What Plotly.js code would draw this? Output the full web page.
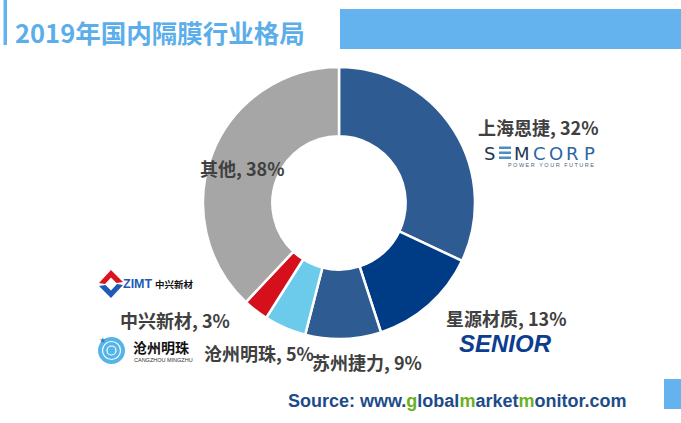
<!DOCTYPE html>
<html>
<head>
<meta charset="utf-8">
<script src="https://cdn.plot.ly/plotly-3.0.1.min.js"></script>
<style>html,body{margin:0;padding:0;background:#fff;}#chart{width:681px;height:423px;}</style>
</head>
<body>
<div id="chart"></div>
<script>
// ---- data ----
const chartTitle = '2019年国内隔膜行业格局';
const companies = ['上海恩捷', '星源材质', '苏州捷力', '沧州明珠', '中兴新材', '其他'];
const shares = [32, 13, 9, 5, 3, 38];
const sourceLabel = 'Source: www.globalmarketmonitor.com';

// ---- styles / layout ----
const sliceColors = ['#2F5B93', '#003B85', '#2F5B93', '#6CCAEA', '#D50F1C', '#A6A6A6'];
const labelPos = [[538, 127], [506, 318], [367, 362], [259, 353], [175, 320], [242, 168]];
const W = 681, H = 423;
const cx = 339, cy = 203, R = 136;

const pie = {
  type: 'pie',
  values: shares,
  labels: companies,
  sort: false,
  direction: 'clockwise',
  rotation: 0,
  hole: 0.49,
  textinfo: 'none',
  hoverinfo: 'label+percent',
  marker: { colors: sliceColors, line: { color: '#FFFFFF', width: 2.5 } },
  domain: { x: [(cx - R) / W, (cx + R) / W], y: [1 - (cy + R) / H, 1 - (cy - R) / H] },
  showlegend: false
};
const dummy = { type: 'scatter', x: [], y: [], showlegend: false, hoverinfo: 'skip' };

const cjk = 'Noto Sans CJK SC, sans-serif';
const sans = 'Liberation Sans, Arial, sans-serif';
const ann = [];
// title
ann.push({ x: 13, y: 31, xref: 'x', yref: 'y', xanchor: 'left', yanchor: 'middle', showarrow: false,
  text: '<b>' + chartTitle + '</b>', font: { family: cjk, size: 25.5, color: '#5BAEEA' } });
// slice labels
companies.forEach((c, i) => {
  ann.push({ x: labelPos[i][0], y: labelPos[i][1], xref: 'x', yref: 'y', xanchor: 'center', yanchor: 'middle',
    showarrow: false, text: '<b>' + c + ', ' + shares[i] + '%</b>', font: { family: cjk, size: 18, color: '#404040' } });
});
// source
const src = sourceLabel.replace('www.g', 'www.<span style="color:#6AB023">g</span>')
  .replace('alm', 'al<span style="color:#6AB023">m</span>')
  .replace('etm', 'et<span style="color:#6AB023">m</span>');
ann.push({ x: 457, y: 401, xref: 'x', yref: 'y', xanchor: 'center', yanchor: 'middle', showarrow: false,
  text: '<b>' + src + '</b>', font: { family: sans, size: 18, color: '#1D4B8A' } });

// SEMCORP logo
const semLetters = [['S', 489, '#1F3554'], ['M', 521.5, '#1F3554'], ['C', 539.5, '#2E63A6'], ['O', 555.5, '#2E63A6'], ['R', 572, '#2E63A6'], ['P', 589.5, '#2E63A6']];
semLetters.forEach(l => ann.push({ x: l[1], y: 153, xref: 'x', yref: 'y', xanchor: 'center', yanchor: 'middle', showarrow: false,
  text: l[0], font: { family: 'DejaVu Sans, sans-serif', size: 18, color: l[2] } }));
ann.push({ x: 551, y: 164.5, xref: 'x', yref: 'y', xanchor: 'center', yanchor: 'middle', showarrow: false,
  text: 'P O W E R   Y O U R   F U T U R E', font: { family: sans, size: 5.5, color: '#4A6488' } });
// SENIOR logo
ann.push({ x: 505, y: 343, xref: 'x', yref: 'y', xanchor: 'center', yanchor: 'middle', showarrow: false,
  text: '<b><i>SENIOR</i></b>', font: { family: sans, size: 24, color: '#0C3D8F' } });
// ZIMT logo
ann.push({ x: 122, y: 284, xref: 'x', yref: 'y', xanchor: 'left', yanchor: 'middle', showarrow: false, borderpad: 0,
  text: '<b>ZIMT</b>', font: { family: sans, size: 12.5, color: '#1E5BB4' } });
ann.push({ x: 154, y: 284, xref: 'x', yref: 'y', xanchor: 'left', yanchor: 'middle', showarrow: false, borderpad: 0,
  text: '<b>中兴新材</b>', font: { family: cjk, size: 9.5, color: '#111111' } });
// 沧州明珠 logo
ann.push({ x: 131, y: 347, xref: 'x', yref: 'y', xanchor: 'left', yanchor: 'middle', showarrow: false,
  text: '<b>沧州明珠</b>', font: { family: cjk, size: 14, color: '#111111' } });
ann.push({ x: 132, y: 360, xref: 'x', yref: 'y', xanchor: 'left', yanchor: 'middle', showarrow: false,
  text: 'CANGZHOU MINGZHU', font: { family: sans, size: 5.5, color: '#333333' } });
ann.push({ x: 102, y: 340, xref: 'x', yref: 'y', xanchor: 'center', yanchor: 'middle', showarrow: false,
  text: '★', font: { family: 'DejaVu Sans', size: 8, color: '#2E7FCC' } });

const shapes = [
  // decorative bars
  { type: 'rect', xref: 'x', yref: 'y', x0: 3.5, x1: 7, y0: 0, y1: 45, fillcolor: '#64B3EE', line: { width: 0 } },
  { type: 'rect', xref: 'x', yref: 'y', x0: 340, x1: 681, y0: 9, y1: 49, fillcolor: '#64B3EE', line: { width: 0 } },
  { type: 'rect', xref: 'x', yref: 'y', x0: 664, x1: 681, y0: 379, y1: 409, fillcolor: '#64B3EE', line: { width: 0 } },
  // SEMCORP "E" bars
  { type: 'rect', xref: 'x', yref: 'y', x0: 499, x1: 511, y0: 146.5, y1: 149, fillcolor: '#4B8FC4', line: { width: 0 } },
  { type: 'rect', xref: 'x', yref: 'y', x0: 499, x1: 511, y0: 151.5, y1: 154, fillcolor: '#4B8FC4', line: { width: 0 } },
  { type: 'rect', xref: 'x', yref: 'y', x0: 499, x1: 511, y0: 156.5, y1: 159, fillcolor: '#4B8FC4', line: { width: 0 } },
  // ZIMT icon
  { type: 'path', xref: 'x', yref: 'y', path: 'M 99 283 L 111 270 L 123 282 L 116.5 283 L 111 277.5 L 105 284 Z', fillcolor: '#D9141E', line: { width: 0 } },
  { type: 'path', xref: 'x', yref: 'y', path: 'M 123 285 L 111 298 L 99 286 L 105.5 285 L 111 290.5 L 117 284 Z', fillcolor: '#1E5BB4', line: { width: 0 } },
  // 沧州明珠 icon
  { type: 'circle', xref: 'x', yref: 'y', x0: 98, x1: 125, y0: 337, y1: 364, fillcolor: '#55B5E8', line: { width: 0 } },
  { type: 'circle', xref: 'x', yref: 'y', x0: 102.5, x1: 120.5, y0: 341.5, y1: 359.5, fillcolor: 'rgba(0,0,0,0)', line: { color: '#FFFFFF', width: 1.2 } },
  { type: 'circle', xref: 'x', yref: 'y', x0: 107, x1: 116, y0: 346, y1: 355, fillcolor: 'rgba(0,0,0,0)', line: { color: '#FFFFFF', width: 1.2 } }
];

const layout = {
  width: W, height: H,
  margin: { l: 0, r: 0, t: 0, b: 0 },
  paper_bgcolor: '#FFFFFF', plot_bgcolor: 'rgba(0,0,0,0)',
  xaxis: { range: [0, W], visible: false, fixedrange: true },
  yaxis: { range: [H, 0], visible: false, fixedrange: true },
  annotations: ann,
  shapes: shapes,
  showlegend: false
};
Plotly.newPlot('chart', [dummy, pie], layout, { displayModeBar: false, staticPlot: true });
</script>
</body>
</html>
